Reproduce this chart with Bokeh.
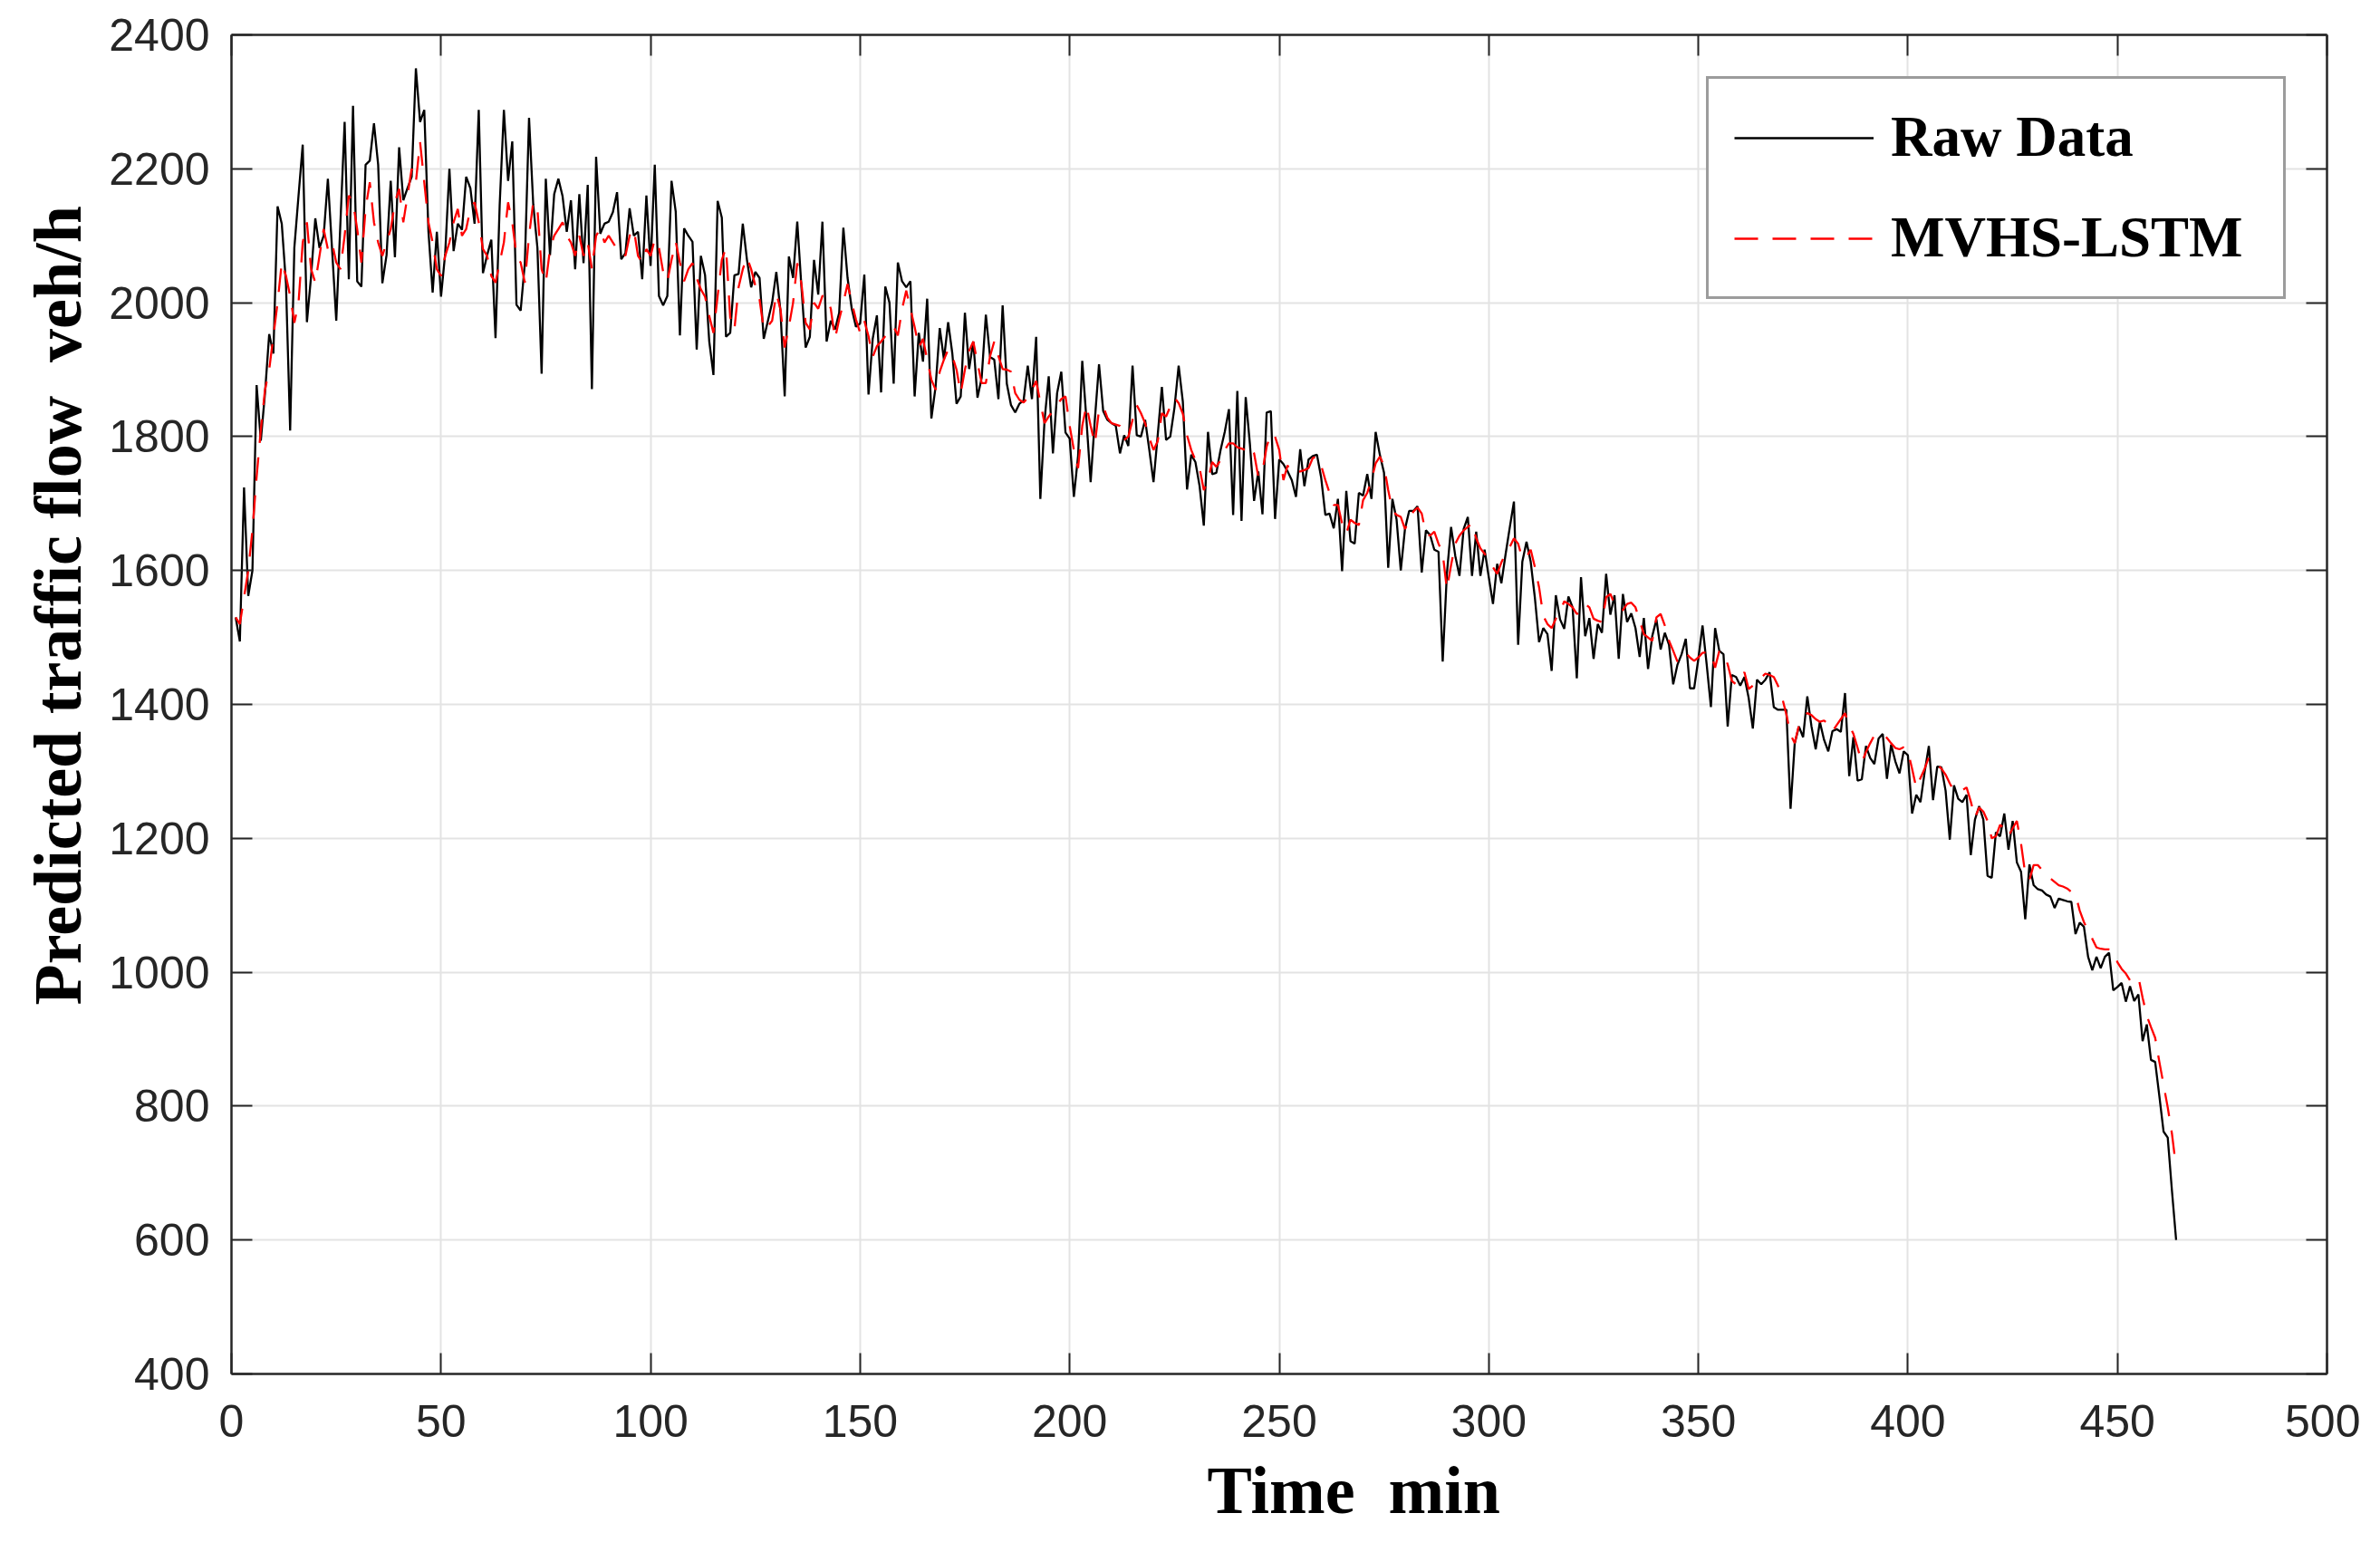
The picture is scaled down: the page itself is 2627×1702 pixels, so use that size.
from bokeh.plotting import figure
from bokeh.models import Legend, LegendItem, LinearAxis, Range1d, CustomJSTickFormatter, Title
from bokeh.embed import file_html
from bokeh.resources import INLINE

# traffic flow per minute (veh/h)
raw_data = [
    1530, 1494, 1724, 1562, 1600, 1877, 1794, 1865, 1953, 1924,
    2144, 2118, 2029, 1809, 2082, 2160, 2236, 1971, 2040, 2126,
    2082, 2100, 2185, 2080, 1973, 2120, 2270, 2035, 2294, 2032,
    2024, 2206, 2212, 2268, 2206, 2029, 2071, 2182, 2068, 2232,
    2153, 2171, 2188, 2350, 2270, 2288, 2106, 2015, 2106, 2009,
    2074, 2200, 2077, 2118, 2109, 2188, 2171, 2118, 2288, 2044,
    2071, 2094, 1947, 2147, 2288, 2182, 2241, 1997, 1988, 2059,
    2276, 2147, 2082, 1894, 2185, 2071, 2162, 2185, 2159, 2106,
    2153, 2050, 2162, 2059, 2176, 1871, 2218, 2103, 2118, 2121,
    2135, 2165, 2065, 2074, 2141, 2100, 2106, 2035, 2160, 2055,
    2206, 2010, 1996, 2010, 2182, 2136, 1951, 2111, 2100, 2091,
    1930, 2070, 2041, 1942, 1892, 2152, 2127, 1949, 1955, 2041,
    2043, 2118, 2064, 2023, 2046, 2037, 1946, 1973, 2000, 2046,
    1987, 1860, 2069, 2037, 2121, 2023, 1933, 1949, 2064, 2012,
    2121, 1942, 1973, 1960, 1985, 2112, 2037, 1991, 1964, 1969,
    2042, 1863, 1946, 1981, 1866, 2024, 2000, 1879, 2060, 2032,
    2023, 2032, 1860, 1955, 1912, 2006, 1827, 1874, 1962, 1915,
    1971, 1924, 1849, 1860, 1985, 1901, 1942, 1858, 1888, 1982,
    1919, 1915, 1856, 1996, 1879, 1847, 1836, 1849, 1854, 1906,
    1856, 1949, 1707, 1824, 1890, 1775, 1865, 1897, 1806, 1797,
    1710, 1771, 1913, 1825, 1732, 1825, 1908, 1838, 1825, 1820,
    1816, 1775, 1802, 1786, 1906, 1802, 1800, 1825, 1780, 1732,
    1802, 1874, 1795, 1800, 1843, 1906, 1852, 1721, 1773, 1762,
    1726, 1667, 1807, 1744, 1746, 1780, 1807, 1841, 1683, 1868,
    1674, 1859, 1789, 1704, 1748, 1684, 1836, 1838, 1677, 1766,
    1759, 1748, 1735, 1710, 1781, 1726, 1766, 1771, 1773, 1739,
    1683, 1685, 1663, 1707, 1599, 1719, 1644, 1640, 1716, 1712,
    1744, 1707, 1807, 1773, 1746, 1604, 1707, 1676, 1600, 1662,
    1689, 1689, 1696, 1597, 1660, 1653, 1631, 1628, 1464, 1595,
    1665, 1622, 1592, 1662, 1680, 1592, 1658, 1592, 1631, 1590,
    1550, 1610, 1581, 1624, 1664, 1703, 1489, 1613, 1643, 1613,
    1559, 1493, 1514, 1505, 1450, 1563, 1527, 1513, 1561, 1545,
    1439, 1590, 1502, 1529, 1468, 1520, 1507, 1595, 1534, 1563,
    1468, 1565, 1523, 1536, 1514, 1471, 1529, 1453, 1502, 1527,
    1482, 1507, 1489, 1430, 1459, 1475, 1498, 1424, 1424, 1468,
    1518, 1459, 1396, 1514, 1480, 1475, 1367, 1444, 1441, 1428,
    1441, 1410, 1364, 1437, 1430, 1437, 1448, 1396, 1392, 1392,
    1392, 1244, 1342, 1367, 1351, 1412, 1367, 1333, 1374, 1347,
    1330, 1360, 1363, 1359, 1417, 1293, 1351, 1286, 1288, 1338,
    1320, 1311, 1349, 1356, 1289, 1340, 1315, 1297, 1330, 1324,
    1237, 1265, 1254, 1299, 1338, 1257, 1307, 1306, 1271, 1198,
    1279, 1259, 1254, 1265, 1175, 1228, 1248, 1228, 1144, 1141,
    1209, 1203, 1237, 1183, 1226, 1164, 1150, 1079, 1161, 1130,
    1124, 1122, 1116, 1113, 1096, 1110, 1108, 1106, 1105, 1057,
    1074, 1068, 1023, 1003, 1023, 1006, 1023, 1029, 973, 978,
    984, 956, 979, 957, 967, 897, 922, 869, 866, 815,
    762, 753, 674, 600,
]

mvhs_lstm = [
    1530, 1520, 1560, 1600, 1660, 1740, 1810, 1870, 1900, 1950,
    2000, 2060, 2040, 2010, 1970, 2000, 2090, 2120, 2050, 2030,
    2070, 2110, 2080, 2090, 2060, 2050, 2100, 2160, 2150, 2110,
    2060, 2140, 2180, 2120, 2090, 2070, 2090, 2110, 2150, 2170,
    2120, 2160, 2200, 2180, 2240, 2180, 2120, 2090, 2050, 2040,
    2070, 2090, 2120, 2140, 2100, 2110, 2140, 2150, 2120, 2080,
    2070, 2040, 2030, 2060, 2090, 2150, 2120, 2070, 2060, 2030,
    2100, 2150, 2140, 2050, 2030, 2080, 2100, 2110, 2120, 2100,
    2090, 2070, 2100, 2070, 2090, 2050, 2100, 2110, 2090, 2100,
    2090, 2080, 2080, 2070, 2100, 2110, 2070, 2060, 2080, 2070,
    2095, 2082, 2046, 2032, 2064, 2091, 2060, 2032, 2050, 2059,
    2037, 2020, 2009, 1980, 1955, 2010, 2064, 2082, 1978, 1960,
    2023, 2050, 2068, 2050, 2025, 2005, 1960, 1965, 1973, 2014,
    1990, 1933, 1964, 2000, 2059, 2028, 1970, 1960, 2000, 1991,
    2010, 2010, 1991, 1946, 1975, 2000, 2028, 2000, 1975, 1955,
    1973, 1950, 1919, 1935, 1942, 1950, 1958, 1964, 1951, 1990,
    2018, 1991, 1964, 1933, 1946, 1915, 1885, 1870, 1897, 1915,
    1930, 1920, 1900, 1865, 1900, 1928, 1942, 1910, 1880, 1880,
    1920, 1942, 1920, 1901, 1900, 1897, 1865, 1855, 1851, 1858,
    1870, 1883, 1851, 1820, 1830, 1838, 1848, 1856, 1860, 1816,
    1780, 1753, 1816, 1847, 1816, 1789, 1840, 1845, 1828, 1820,
    1818, 1816, 1795, 1800, 1825, 1847, 1835, 1820, 1798, 1780,
    1793, 1835, 1830, 1845, 1858, 1850, 1834, 1802, 1780, 1765,
    1753, 1720, 1735, 1762, 1755, 1765, 1780, 1790, 1790, 1784,
    1782, 1780, 1786, 1775, 1740, 1748, 1785, 1805, 1800, 1780,
    1735, 1757, 1745, 1746, 1748, 1750, 1753, 1768, 1770, 1757,
    1735, 1716, 1698, 1698, 1670, 1655, 1676, 1671, 1668, 1705,
    1716, 1735, 1760, 1770, 1757, 1720, 1690, 1683, 1680, 1662,
    1675, 1688, 1694, 1685, 1655, 1652, 1658, 1640, 1626, 1572,
    1608, 1640, 1652, 1660, 1665, 1671, 1648, 1633, 1625, 1617,
    1605, 1595, 1612, 1625, 1635, 1648, 1640, 1618, 1620, 1631,
    1605, 1575, 1532, 1520, 1514, 1528, 1538, 1554, 1550, 1545,
    1535, 1538, 1550, 1545, 1528, 1525, 1523, 1560, 1565, 1550,
    1541, 1541, 1550, 1552, 1545, 1525, 1505, 1500, 1495, 1530,
    1535, 1518, 1495, 1480, 1464, 1470, 1477, 1470, 1465, 1470,
    1477, 1478, 1477, 1455, 1480, 1475, 1460, 1435, 1430, 1440,
    1448, 1423, 1428, 1437, 1440, 1446, 1444, 1441, 1428, 1410,
    1385, 1355, 1342, 1369, 1380, 1387, 1384, 1378, 1374, 1376,
    1370, 1360, 1369, 1378, 1387, 1369, 1356, 1335, 1313, 1329,
    1342, 1354, 1356, 1354, 1350, 1342, 1335, 1333, 1336, 1330,
    1304, 1275, 1290, 1304, 1321, 1316, 1310, 1304, 1295, 1282,
    1271, 1271, 1272, 1276, 1255, 1231, 1246, 1240, 1226, 1200,
    1203, 1220, 1215, 1203, 1215, 1226, 1192, 1147, 1138, 1160,
    1160, 1153, 1146, 1140, 1135, 1130, 1128, 1125, 1120, 1116,
    1092, 1075, 1062, 1050, 1037, 1035, 1034, 1034, 1032, 1015,
    1005, 998, 988, 990, 993, 962, 935, 918, 902, 866,
    832, 798, 759, 708,
]

minutes = list(range(1, len(raw_data) + 1))

x_ticks = [0, 50, 100, 150, 200, 250, 300, 350, 400, 450, 500]
y_ticks = [400, 600, 800, 1000, 1200, 1400, 1600, 1800, 2000, 2200, 2400]

axis_col = "#262626"

p = figure(width=2605, height=1702,
           x_range=Range1d(0, 500), y_range=Range1d(400, 2400),
           output_backend="svg", toolbar_location=None,
           min_border_left=255, min_border_right=37,
           min_border_top=38, min_border_bottom=186)
p.outline_line_color = None
p.background_fill_color = "white"
p.border_fill_color = "white"

# top and right axes only give the closed box with inner ticks
blank = CustomJSTickFormatter(code="return ''")
p.add_layout(LinearAxis(ticker=x_ticks, formatter=blank), "above")
p.add_layout(LinearAxis(ticker=y_ticks, formatter=blank), "right")

p.xaxis.ticker = x_ticks
p.yaxis.ticker = y_ticks
for ax in p.xaxis + p.yaxis:
    ax.axis_line_color = axis_col
    ax.axis_line_width = 2.5
    ax.major_tick_line_color = axis_col
    ax.major_tick_line_width = 2
    ax.major_tick_in = 23
    ax.major_tick_out = 0
    ax.minor_tick_line_color = None
    ax.major_label_text_font = "Liberation Sans"
    ax.major_label_text_font_size = "50px"
    ax.major_label_text_color = axis_col

p.above[0].major_label_standoff = 0
p.right[0].major_label_standoff = 0
p.below[0].major_label_standoff = 34
p.left[0].major_label_standoff = 24

# axis titles sit off-centre in the original, so they are placed as titles
x_title = Title(text="Time \u00a0min", align="left", offset=1077, standoff=27,
                text_font="Liberation Serif", text_font_style="bold",
                text_font_size="74px", text_color="black")
y_title = Title(text="Predicted traffic flow \u00a0veh/h", align="left",
                offset=407, standoff=25,
                text_font="Liberation Serif", text_font_style="bold",
                text_font_size="74px", text_color="black")
p.add_layout(x_title, "below")
p.add_layout(y_title, "left")

p.xgrid.grid_line_color = "#e3e3e3"
p.ygrid.grid_line_color = "#e3e3e3"
p.xgrid.grid_line_width = 2
p.ygrid.grid_line_width = 2

r_raw = p.line(minutes, raw_data, line_color="black", line_width=2.3)
r_pred = p.line(minutes, mvhs_lstm, line_color="#ff0000", line_width=2.3,
                line_dash="26 16")

legend = Legend(items=[LegendItem(label="Raw Data", renderers=[r_raw]),
                       LegendItem(label="MVHS-LSTM", renderers=[r_pred])],
                location=(1628, 1186), orientation="vertical")
legend.label_text_font = "Liberation Serif"
legend.label_text_font_style = "bold"
legend.label_text_font_size = "63px"
legend.label_text_color = "black"
legend.glyph_width = 154
legend.glyph_height = 66
legend.label_height = 66
legend.label_width = 405
legend.label_standoff = 19
legend.spacing = 38
legend.padding = 28
legend.margin = 0
legend.border_line_color = "#3a3a3a"
legend.border_line_width = 3
legend.background_fill_color = "white"
legend.background_fill_alpha = 1
p.add_layout(legend)

open("out.html", "w").write(file_html(p, INLINE))
